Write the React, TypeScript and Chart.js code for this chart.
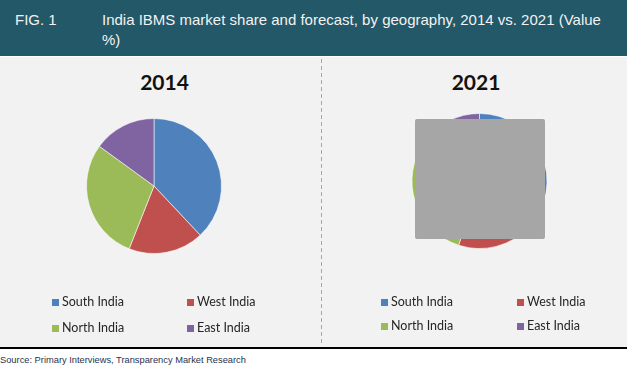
import React, { useEffect, useRef } from "react";
import { Chart, registerables } from "chart.js";

Chart.register(...registerables);

// ---- data ----
const regions = ["South India", "West India", "North India", "East India"];
const regionColors = ["#4F81BD", "#C0504D", "#9BBB59", "#8064A2"];
const share2014 = [38, 18, 29, 15];
const share2021 = [37, 18, 30, 15];
const yearLabels = ["2014", "2021"];
const figLabel = "FIG. 1";
const titleLine1 = "India IBMS market share and forecast, by geography, 2014 vs. 2021 (Value";
const titleLine2 = "%)";
const sourceText = "Source: Primary Interviews, Transparency Market Research";

type PanelProps = {
  values: number[];
  left: number;
  top: number;
  width: number;
  height: number;
  padding: { left: number; right: number; top: number; bottom: number };
};

function PieCanvas({ values, left, top, width, height, padding }: PanelProps) {
  const ref = useRef<HTMLCanvasElement | null>(null);
  useEffect(() => {
    if (!ref.current) return;
    const chart = new Chart(ref.current, {
      type: "pie",
      data: {
        labels: regions,
        datasets: [
          {
            data: values,
            backgroundColor: regionColors,
            borderColor: "rgba(255,255,255,0.55)",
            borderWidth: 1,
            hoverOffset: 0,
            offset: 0,
          },
        ],
      },
      options: {
        responsive: false,
        animation: false,
        devicePixelRatio: 1,
        layout: { padding },
        plugins: {
          legend: { display: false },
          title: { display: false },
          tooltip: { enabled: false },
        },
        events: [],
      },
    });
    return () => chart.destroy();
  }, [values]);
  return (
    <canvas
      ref={ref}
      width={width}
      height={height}
      style={{ position: "absolute", left, top, width, height }}
    />
  );
}

function Legend({ x1, x2, y1, y2 }: { x1: number; x2: number; y1: number; y2: number }) {
  const pos = [
    [x1, y1],
    [x2, y1],
    [x1, y2],
    [x2, y2],
  ];
  return (
    <>
      {regions.map((r, i) => (
        <div
          key={r}
          style={{
            position: "absolute",
            left: pos[i][0],
            top: pos[i][1] - 8,
            height: 16,
            display: "flex",
            alignItems: "center",
            whiteSpace: "nowrap",
          }}
        >
          <div style={{ width: 7, height: 7, background: regionColors[i], marginRight: 3 }} />
          <span
            style={{
              fontFamily: "Lato, 'Noto Sans', sans-serif",
              fontSize: 12.5,
              lineHeight: "16px",
              color: "#262626",
            }}
          >
            {r}
          </span>
        </div>
      ))}
    </>
  );
}

export default function App() {
  const yearStyle = (cx: number): React.CSSProperties => ({
    position: "absolute",
    left: cx - 60,
    width: 120,
    top: 70,
    textAlign: "center",
    fontFamily: "Lato, 'Noto Sans', sans-serif",
    fontWeight: 700,
    fontSize: 21,
    lineHeight: "24px",
    color: "#111",
  });
  return (
    <div
      style={{
        position: "absolute",
        left: 0,
        top: 0,
        width: 627,
        height: 367,
        background: "#ffffff",
        overflow: "hidden",
      }}
    >
      {/* header */}
      <div
        style={{
          position: "absolute",
          left: 0,
          top: 0,
          width: 627,
          height: 56,
          background: "#225868",
        }}
      />
      <div
        style={{
          position: "absolute",
          left: 15,
          top: 9.5,
          fontFamily: "'Liberation Sans', Arial, sans-serif",
          fontSize: 15,
          lineHeight: "20px",
          color: "#f2f2f2",
        }}
      >
        {figLabel}
      </div>
      <div
        style={{
          position: "absolute",
          left: 102,
          top: 9.5,
          fontFamily: "'Liberation Sans', Arial, sans-serif",
          fontSize: 15,
          lineHeight: "20px",
          color: "#f2f2f2",
          whiteSpace: "nowrap",
        }}
      >
        {titleLine1}
        <br />
        {titleLine2}
      </div>

      {/* gray panel */}
      <div
        style={{
          position: "absolute",
          left: 0,
          top: 57,
          width: 627,
          height: 290,
          background: "#f2f2f2",
        }}
      />
      {/* dashed divider */}
      <div
        style={{
          position: "absolute",
          left: 321,
          top: 59,
          width: 1,
          height: 287,
          background: "repeating-linear-gradient(to bottom, #a6a6a6 0px, #a6a6a6 4px, transparent 4px, transparent 7px)",
        }}
      />

      <div style={yearStyle(164.5)}>{yearLabels[0]}</div>
      <div style={yearStyle(476)}>{yearLabels[1]}</div>

      <PieCanvas
        values={share2014}
        left={0}
        top={57}
        width={321}
        height={289}
        padding={{ left: 86, right: 99, top: 61, bottom: 92 }}
      />
      <PieCanvas
        values={share2021}
        left={322}
        top={57}
        width={305}
        height={289}
        padding={{ left: 89.5, right: 79.5, top: 56, bottom: 97 }}
      />

      {/* placeholder box covering the 2021 pie */}
      <div
        style={{
          position: "absolute",
          left: 415,
          top: 119,
          width: 130,
          height: 120,
          background: "#a6a6a6",
          borderRadius: 2,
        }}
      />

      <Legend x1={52} x2={187} y1={302} y2={328} />
      <Legend x1={381} x2={517} y1={302} y2={326} />

      {/* bottom rule and source */}
      <div
        style={{
          position: "absolute",
          left: 0,
          top: 347,
          width: 627,
          height: 2,
          background: "#000",
        }}
      />
      <div
        style={{
          position: "absolute",
          left: 0,
          top: 353.5,
          fontFamily: "'Liberation Sans', Arial, sans-serif",
          fontSize: 9.3,
          lineHeight: "12px",
          color: "#1f3350",
          whiteSpace: "nowrap",
        }}
      >
        {sourceText}
      </div>
    </div>
  );
}
